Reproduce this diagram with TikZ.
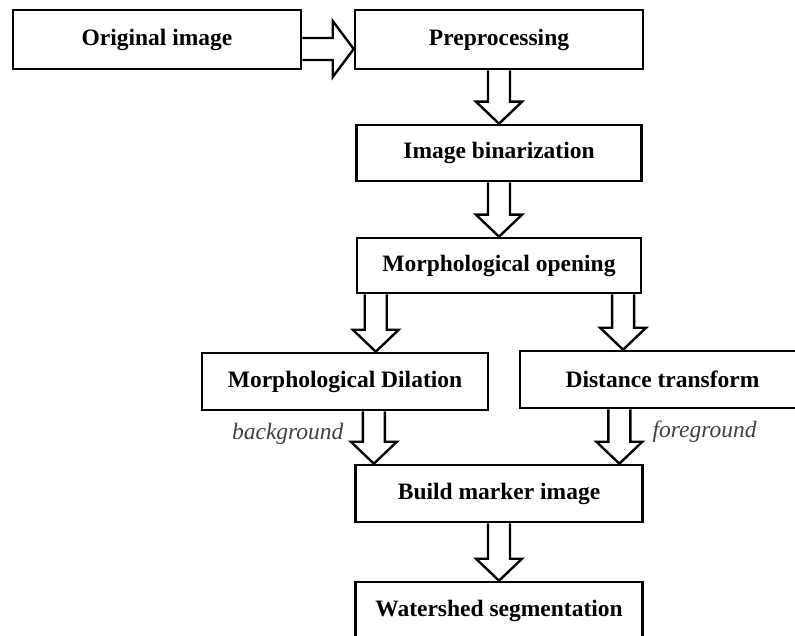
\documentclass[tikz,border=0pt]{standalone}
\usepackage{fontspec}
\setmainfont{Liberation Serif}
\usetikzlibrary{calc}

\tikzset{
  stage/.style={draw, line width=2.6pt, minimum height=57pt, inner sep=0pt,
    font=\fontsize{23.5}{28}\selectfont\bfseries},
  blockline/.style={line width=2.4pt},
  note/.style={font=\fontsize{23.5}{28}\selectfont\itshape, text=black!75}
}

% hollow block arrows between two anchors
\newcommand{\blockdown}[2]{%
  \draw[blockline] let \p1=(#1), \p2=(#2) in
    (\x1-11pt,\y1) -- (\x1-11pt,\y2+22pt) -- (\x1-23pt,\y2+22pt) -- (\x1,\y2)
    -- (\x1+23pt,\y2+22pt) -- (\x1+11pt,\y2+22pt) -- (\x1+11pt,\y1);}
\newcommand{\blockright}[2]{%
  \draw[blockline] let \p1=(#1), \p2=(#2) in
    (\x1,\y1+11pt) -- (\x2-21pt,\y1+11pt) -- (\x2-21pt,\y1+28pt) -- (\x2,\y1)
    -- (\x2-21pt,\y1-28pt) -- (\x2-21pt,\y1-11pt) -- (\x1,\y1-11pt);}

\begin{document}
\begin{tikzpicture}[x=1pt, y=-1pt]
\useasboundingbox (0,0) rectangle (795,636);
\clip (0,0) rectangle (795,636);

\node[stage, minimum width=288pt, minimum height=59pt] (orig) at (157,39.5) {Original image};
\node[stage, minimum width=288pt, minimum height=59pt] (prep) at (499,39.5) {Preprocessing};
\node[stage, minimum width=285pt, minimum height=56pt] (binar) at (499,153) {Image binarization};
\node[stage, minimum width=284pt, minimum height=55pt] (open) at (499,265.5) {Morphological opening};
\node[stage, minimum width=286pt] (dil) at (345,381.5) {Morphological Dilation};
\node[stage, minimum width=285pt] (dist) at (662.5,379.5) {Distance transform};
\node[stage, minimum width=287pt] (build) at (499,493.5) {Build marker image};
\node[stage, minimum width=287pt] (water) at (499,610.5) {Watershed segmentation};

\blockright{$(orig.east)+(0,9.5)$}{prep.west}
\blockdown{prep.south}{binar.north}
\blockdown{binar.south}{open.north}
\blockdown{$(open.south west)!0.07!(open.south east)$}{dil.north}
\blockdown{$(open.south west)!0.933!(open.south east)$}{dist.north}
\blockdown{$(dil.south west)!0.6!(dil.south east)$}{build.north}
\blockdown{$(dist.south west)!0.35!(dist.south east)$}{build.north}
\blockdown{build.south}{water.north}

\node[note, anchor=base east] (bg) at (347,439) {background};
\node[note, anchor=base west] (fg) at (649,437) {foreground};
\end{tikzpicture}
\end{document}
